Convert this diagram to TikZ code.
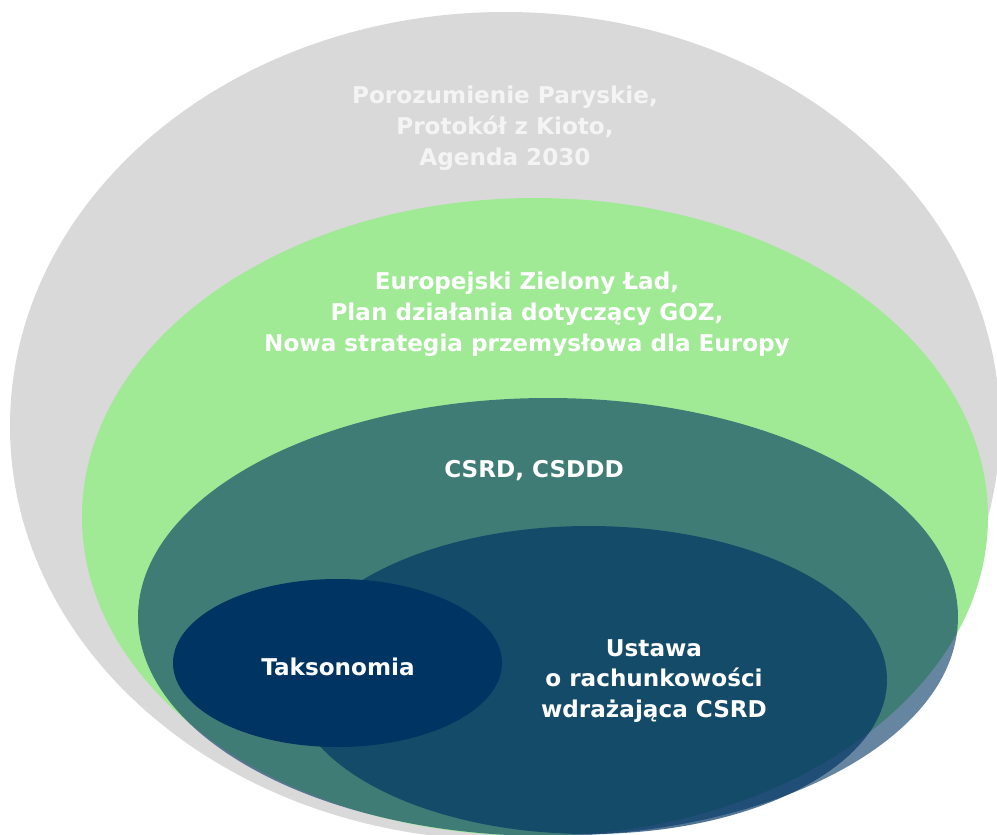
\documentclass[tikz,border=0pt]{standalone}
\usepackage{fontspec}
\setmainfont{DejaVu Sans}
\definecolor{grayfill}{HTML}{D9D9D9}
\definecolor{grayText}{HTML}{F4F4F4}
\definecolor{greenfill}{HTML}{A0EA96}
\definecolor{navy}{HTML}{003462}
\begin{document}
\begin{tikzpicture}[x=1bp,y=-1bp,
  lbl/.style={text=white,font=\bfseries\fontsize{23.2}{31}\selectfont,align=center,inner sep=0pt}]
\useasboundingbox (0,0) rectangle (997,835);
\clip (0,0) rectangle (997,835);
% layers
\fill[grayfill] (505,426) ellipse [x radius=495, y radius=414];
\fill[greenfill] (535,517) ellipse [x radius=453, y radius=319];
\fill[navy,opacity=0.6] (548,617) ellipse [x radius=410, y radius=219];
\fill[navy,opacity=0.68] (589,680) ellipse [x radius=298, y radius=154];
\fill[navy] (337.5,663) ellipse [x radius=164.5, y radius=84];
% labels
\node[lbl,text=grayText] (global) at (505,128) {Porozumienie Paryskie,\\Protokół z Kioto,\\Agenda 2030};
\node[lbl] (eu) at (527,314) {Europejski Zielony Ład,\\Plan działania dotyczący GOZ,\\Nowa strategia przemysłowa dla Europy};
\node[lbl] (csrd) at (534,471) {CSRD, CSDDD};
\node[lbl] (takso) at (338,667) {Taksonomia};
\node[lbl] (ustawa) at (654,681) {Ustawa\\o rachunkowości\\wdrażająca CSRD};
\end{tikzpicture}
\end{document}
